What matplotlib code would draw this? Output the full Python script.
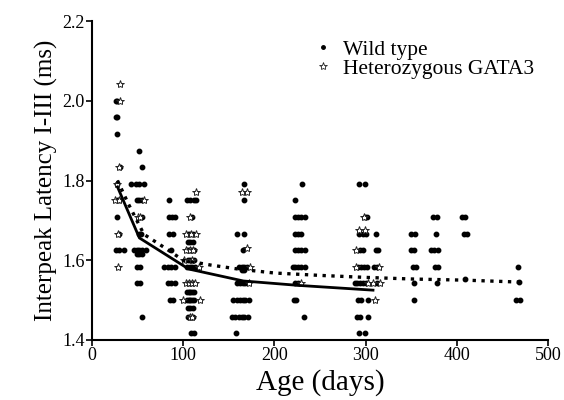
import matplotlib
matplotlib.use("Agg")
import matplotlib.pyplot as plt
from matplotlib.lines import Line2D

plt.rcParams['font.family'] = ['Liberation Serif', 'DejaVu Serif']

# wild type points (age in days, latency in ms)
wt_age = [26, 28, 26, 28, 27, 31, 27, 28, 30, 27, 30, 26, 30, 35,
          52, 55, 43, 48, 52, 57, 49, 52, 55, 55, 52, 54, 46, 49, 52, 55, 59, 49, 52, 55,
          49, 53, 49, 53, 55,
          85, 85, 88, 91, 85, 89, 87, 79, 83, 87, 91, 83, 87, 91, 86, 89,
          104, 108, 112, 114, 110, 105, 107, 111, 105, 108, 111, 104, 106, 108, 110, 112,
          105, 108, 112, 104, 107, 110, 113, 105, 108, 111, 104, 106, 108, 110, 112,
          104, 106, 108, 110, 112, 105, 108, 111, 105, 108, 111, 109, 112,
          167, 167, 159, 167, 166, 161, 164, 167, 170, 164, 167, 159, 162, 165, 168,
          155, 159, 162, 165, 168, 172, 153, 157, 161, 164, 167, 171, 158,
          230, 223, 223, 226, 229, 233, 223, 226, 229, 223, 226, 229, 233,
          220, 223, 226, 229, 233, 223, 226, 221, 224, 232,
          293, 299, 299, 301, 293, 297, 300, 311, 294, 297, 311, 313,
          292, 295, 298, 301, 309, 312, 288, 291, 294, 297, 300, 312,
          292, 295, 303, 291, 294, 303, 293, 299,
          350, 354, 350, 353, 352, 355, 353, 353,
          374, 378, 377, 372, 375, 379, 376, 379, 378,
          405, 409, 408, 411, 409,
          467, 465, 469, 468]
wt_lat = [2.0, 2.0, 1.958, 1.958, 1.917, 1.833, 1.792, 1.75, 1.75, 1.708, 1.667, 1.625, 1.625, 1.625,
          1.875, 1.833, 1.792, 1.792, 1.792, 1.792, 1.75, 1.75, 1.75, 1.708, 1.667, 1.667,
          1.625, 1.625, 1.625, 1.625, 1.625, 1.615, 1.615, 1.615,
          1.583, 1.583, 1.542, 1.542, 1.458,
          1.75, 1.708, 1.708, 1.708, 1.667, 1.667, 1.625, 1.583, 1.583, 1.583, 1.583,
          1.542, 1.542, 1.542, 1.5, 1.5,
          1.75, 1.75, 1.75, 1.75, 1.708, 1.667, 1.667, 1.667, 1.646, 1.646, 1.646,
          1.625, 1.625, 1.625, 1.625, 1.625,
          1.6, 1.6, 1.6, 1.583, 1.583, 1.583, 1.583, 1.542, 1.542, 1.542,
          1.521, 1.521, 1.521, 1.521, 1.521,
          1.5, 1.5, 1.5, 1.5, 1.5, 1.479, 1.479, 1.479, 1.458, 1.458, 1.458, 1.417, 1.417,
          1.792, 1.75, 1.667, 1.667, 1.625, 1.583, 1.583, 1.583, 1.583, 1.575, 1.575,
          1.542, 1.542, 1.542, 1.542,
          1.5, 1.5, 1.5, 1.5, 1.5, 1.5, 1.458, 1.458, 1.458, 1.458, 1.458, 1.458, 1.417,
          1.792, 1.75, 1.708, 1.708, 1.708, 1.708, 1.667, 1.667, 1.667, 1.625, 1.625, 1.625, 1.625,
          1.583, 1.583, 1.583, 1.583, 1.583, 1.542, 1.542, 1.5, 1.5, 1.458,
          1.792, 1.792, 1.708, 1.708, 1.667, 1.667, 1.667, 1.667, 1.625, 1.625, 1.625, 1.625,
          1.583, 1.583, 1.583, 1.583, 1.583, 1.583, 1.542, 1.542, 1.542, 1.542, 1.542, 1.542,
          1.5, 1.5, 1.5, 1.458, 1.458, 1.458, 1.417, 1.417,
          1.667, 1.667, 1.625, 1.625, 1.583, 1.583, 1.542, 1.5,
          1.708, 1.708, 1.667, 1.625, 1.625, 1.625, 1.583, 1.583, 1.542,
          1.708, 1.708, 1.667, 1.667, 1.552,
          1.583, 1.5, 1.5, 1.546]

# heterozygous GATA3 points
het_age = [31, 31, 30, 25, 28, 30, 29, 29,
           57, 50, 53,
           114, 108, 103, 109, 114, 103, 107, 111, 101, 110, 117, 103, 106, 110, 113, 100, 118, 107, 110,
           164, 170, 170, 173, 172,
           229,
           298, 293, 299, 289, 289, 315, 303, 308, 316, 310]
het_lat = [2.042, 2.0, 1.833, 1.75, 1.792, 1.75, 1.667, 1.583,
           1.75, 1.708, 1.708,
           1.77, 1.708, 1.667, 1.667, 1.667, 1.625, 1.625, 1.625, 1.6, 1.6, 1.583,
           1.542, 1.542, 1.542, 1.542, 1.5, 1.5, 1.458, 1.458,
           1.771, 1.771, 1.63, 1.583, 1.542,
           1.542,
           1.708, 1.677, 1.677, 1.625, 1.583, 1.583, 1.542, 1.542, 1.542, 1.5]

# fitted curves
wt_fit_age = [28, 52, 106, 166, 226, 308]
wt_fit_lat = [1.784, 1.656, 1.578, 1.548, 1.537, 1.525]
het_fit_age = [28, 40, 57, 80, 100, 130, 160, 200, 250, 300, 350, 410, 472]
het_fit_lat = [1.80, 1.741, 1.665, 1.631, 1.60, 1.588, 1.578, 1.568, 1.562, 1.557, 1.553, 1.55, 1.545]

fig = plt.figure(figsize=(5.64, 4), dpi=100)
ax = fig.add_axes([0.163, 0.15, 0.809, 0.7975])

ax.plot(wt_age, wt_lat, 'o', color='black', markersize=3.2, linestyle='none')
ax.plot(het_age, het_lat, '*', markerfacecolor='white', markeredgecolor='#222222',
        markeredgewidth=0.7, markersize=6, linestyle='none')
ax.plot(wt_fit_age, wt_fit_lat, '-', color='black', linewidth=2)
ax.plot(het_fit_age, het_fit_lat, ':', color='black', linewidth=2.4)

ax.set_xlim(0, 500)
ax.set_ylim(1.4, 2.2)
ax.set_xticks([0, 100, 200, 300, 400, 500])
ax.set_yticks([1.4, 1.6, 1.8, 2.0, 2.2])
ax.set_yticklabels(['1.4', '1.6', '1.8', '2.0', '2.2'])
for s in ['top', 'right']:
    ax.spines[s].set_visible(False)
for s in ['left', 'bottom']:
    ax.spines[s].set_linewidth(1.5)
ax.tick_params(axis='both', labelsize=13, length=4, width=1.2, pad=1)

ax.set_xlabel('Age (days)', fontsize=21, labelpad=4)
ax.set_ylabel('Interpeak Latency I-III (ms)', fontsize=18, labelpad=3)

handles = [
    Line2D([], [], marker='o', color='black', markersize=2.5, linestyle='none'),
    Line2D([], [], marker='*', markerfacecolor='white', markeredgecolor='#222222',
           markeredgewidth=0.6, markersize=6, linestyle='none'),
]
ax.legend(handles, ['Wild type', 'Heterozygous GATA3'], loc='upper left',
          bbox_to_anchor=(0.465, 0.975), frameon=False, fontsize=15.5,
          handlelength=0.8, handletextpad=0.5, labelspacing=-0.05, borderpad=0)

fig.savefig('out.png', dpi=100)
